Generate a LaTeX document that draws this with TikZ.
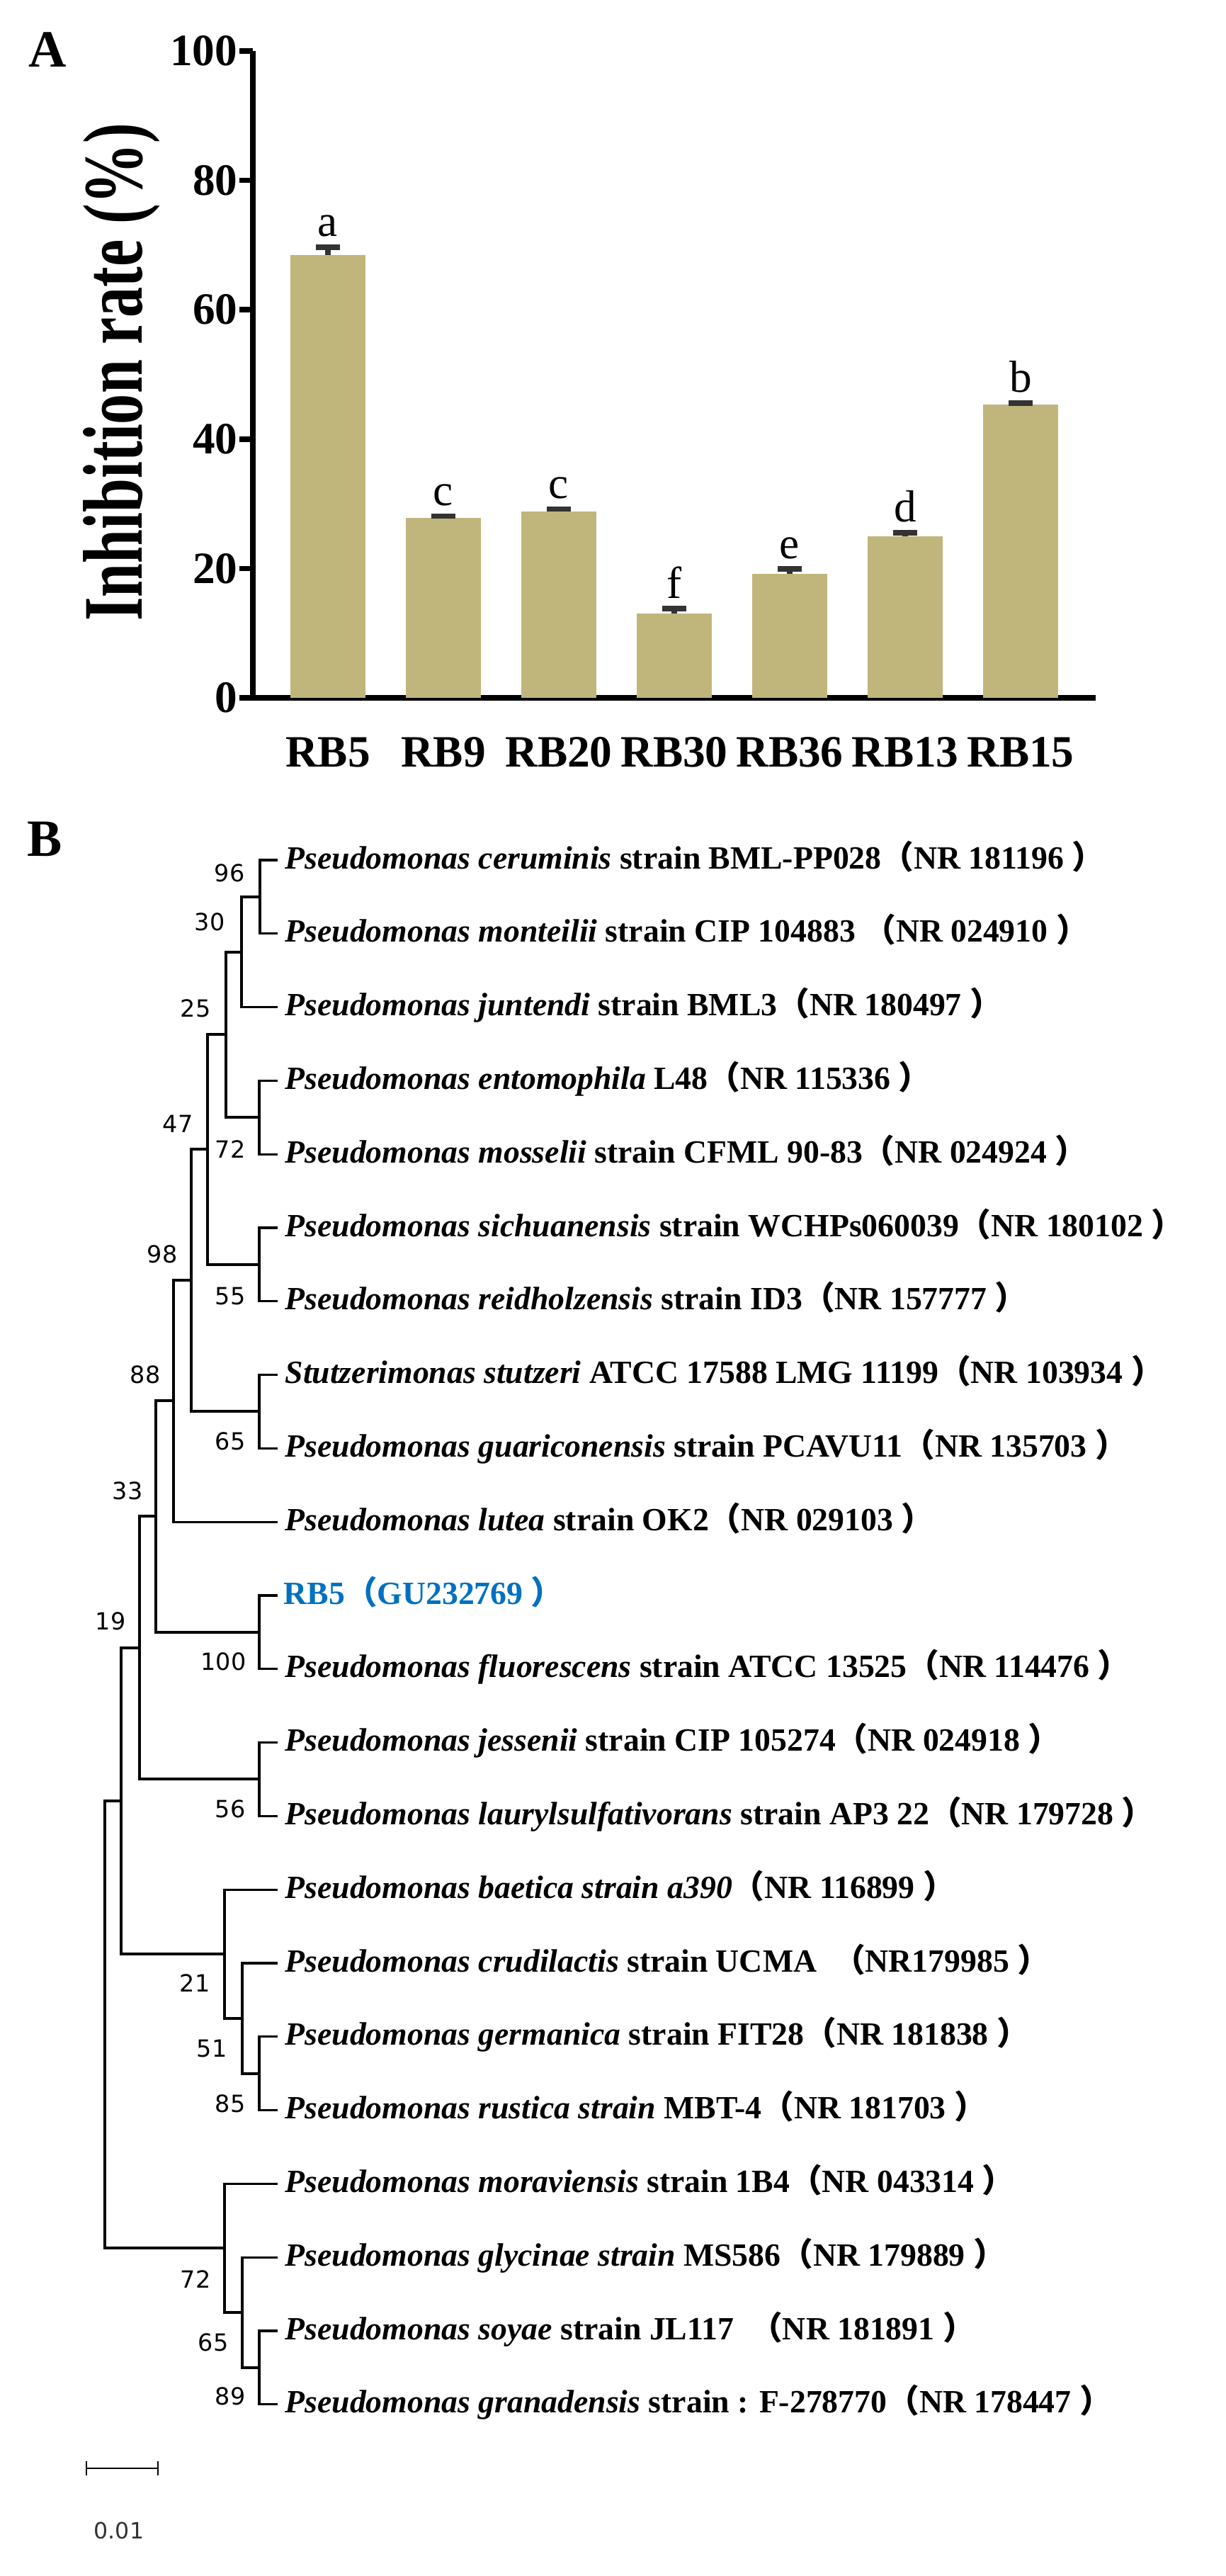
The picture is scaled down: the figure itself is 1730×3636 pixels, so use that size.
\documentclass[tikz,border=0pt]{standalone}
\usepackage{fontspec}
\setmainfont{Liberation Serif}
\newfontfamily\cjk{Noto Sans CJK SC}
\newfontfamily\bsfont{DejaVu Sans}
\definecolor{barcol}{RGB}{192,182,124}
\definecolor{rbblue}{RGB}{0,112,192}
\newcommand{\lp}{{\cjk （}}
\newcommand{\rp}{{\cjk ）}}
\begin{document}
\begin{tikzpicture}[x=0.01cm,y=-0.01cm,
  bar/.style={fill=barcol,draw=none},
  errb/.style={draw=black!80,line width=2.2pt},
  axis/.style={line width=2.2pt},
  tick/.style={font=\fontsize{18}{20}\selectfont\bfseries,anchor=east,inner sep=0},
  cat/.style={font=\fontsize{18}{20}\selectfont\bfseries,inner sep=0},
  sig/.style={font=\fontsize{18}{20}\selectfont,anchor=south,inner sep=0},
  branch/.style={line width=0.9pt},
  leaf/.style={font=\fontsize{13}{15}\selectfont\bfseries,anchor=base west,inner sep=0},
  boot/.style={font=\bsfont\fontsize{9.5}{11}\selectfont,anchor=base east,inner sep=0},
  panel/.style={font=\fontsize{21}{24}\selectfont\bfseries,inner sep=0}]
\useasboundingbox (0,0) rectangle (1730,3636);
% ---------- Panel A ----------
\node[panel] (A) at (67,70) {A};
\foreach \v [count=\i from 0] in {0,20,40,60,80,100}{
  \draw[axis] (338,985-9.13*\v) -- (357,985-9.13*\v);
  \node[tick] (t\i) at (336,985-9.13*\v) {\v};
}
\draw[axis] (357,72) -- (357,989);
\draw[axis] (353,985) -- (1547,985);
\node[font=\fontsize{34}{36}\selectfont\bfseries,rotate=90,xscale=0.72,inner sep=0] (ylab) at (172,525) {Inhibition rate (\%)};
\foreach \name/\val/\err/\sg [count=\i from 0] in {RB5/68.5/1.2/a,RB9/27.8/0.3/c,RB20/28.8/0.4/c,RB30/13.0/0.8/f,RB36/19.2/0.7/e,RB13/25.0/0.5/d,RB15/45.3/0.3/b}{
  \pgfmathsetmacro{\cx}{463+163*\i}
  \fill[barcol] (\cx-53,985) rectangle (\cx+53,985-9.13*\val);
  \draw[errb] (\cx,985-9.13*\val) -- (\cx,985-9.13*\val-9.13*\err);
  \draw[errb] (\cx-17,985-9.13*\val-9.13*\err) -- (\cx+17,985-9.13*\val-9.13*\err);
  \node[sig] (s\i) at (\cx,985-9.13*\val-9.13*\err-14) {\sg};
  \node[cat] (c\i) at (\cx,1062) {\name};
}
% ---------- Panel B ----------
\node[panel] (B) at (63,1184) {B};
\foreach \i in {0,...,21}{ \coordinate (l\i) at (392,1214+103.8*\i); }
\coordinate (n96) at (367,1266);
\coordinate (n30) at (341,1344);
\coordinate (n72) at (366,1577);
\coordinate (n25) at (319,1460);
\coordinate (n55) at (366,1785);
\coordinate (n47) at (293,1622);
\coordinate (n65) at (366,1992);
\coordinate (n98) at (270,1807);
\coordinate (n88) at (245,1977);
\coordinate (n100) at (366,2304);
\coordinate (n33) at (220,2140);
\coordinate (n56) at (366,2511);
\coordinate (n19) at (197,2326);
\coordinate (n85) at (366,2927);
\coordinate (n51) at (342,2849);
\coordinate (n21) at (317,2758);
\coordinate (nX) at (171,2542);
\coordinate (n89) at (366,3342);
\coordinate (n65b) at (342,3264);
\coordinate (n72b) at (317,3173);
\coordinate (root) at (148,2857);
\foreach \p/\a/\b in {n96/l0/l1,n30/n96/l2,n72/l3/l4,n25/n30/n72,n55/l5/l6,n47/n25/n55,n65/l7/l8,n98/n47/n65,n88/n98/l9,n100/l10/l11,n33/n88/n100,n56/l12/l13,n19/n33/n56,n85/l16/l17,n51/l15/n85,n21/l14/n51,nX/n19/n21,n89/l20/l21,n65b/l19/n89,n72b/l18/n65b,root/nX/n72b}{
  \draw[branch] (\a) -| (\p) |- (\b);
}
% leaf labels
\foreach \i/\t in {
0/{\textit{Pseudomonas ceruminis} strain BML-PP028\lp NR 181196 \rp},
1/{\textit{Pseudomonas monteilii} strain CIP 104883 \lp NR 024910 \rp},
2/{\textit{Pseudomonas juntendi} strain BML3\lp NR 180497 \rp},
3/{\textit{Pseudomonas entomophila} L48\lp NR 115336 \rp},
4/{\textit{Pseudomonas mosselii} strain CFML 90-83\lp NR 024924 \rp},
5/{\textit{Pseudomonas sichuanensis} strain WCHPs060039\lp NR 180102 \rp},
6/{\textit{Pseudomonas reidholzensis} strain ID3\lp NR 157777 \rp},
7/{\textit{Stutzerimonas stutzeri} ATCC 17588 LMG 11199\lp NR 103934 \rp},
8/{\textit{Pseudomonas guariconensis} strain PCAVU11\lp NR 135703 \rp},
9/{\textit{Pseudomonas lutea} strain OK2\lp NR 029103 \rp},
11/{\textit{Pseudomonas fluorescens} strain ATCC 13525\lp NR 114476 \rp},
12/{\textit{Pseudomonas jessenii} strain CIP 105274\lp NR 024918 \rp},
13/{\textit{Pseudomonas laurylsulfativorans} strain AP3 22\lp NR 179728 \rp},
14/{\textit{Pseudomonas baetica strain a390}\lp NR 116899 \rp},
15/{\textit{Pseudomonas crudilactis} strain UCMA \ \lp NR179985 \rp},
16/{\textit{Pseudomonas germanica} strain FIT28\lp NR 181838 \rp},
17/{\textit{Pseudomonas rustica strain} MBT-4\lp NR 181703 \rp},
18/{\textit{Pseudomonas moraviensis} strain 1B4\lp NR 043314 \rp},
19/{\textit{Pseudomonas glycinae strain} MS586\lp NR 179889 \rp},
20/{\textit{Pseudomonas soyae} strain JL117 \ \lp NR 181891 \rp},
21/{\textit{Pseudomonas granadensis} strain : F-278770\lp NR 178447 \rp}}{
  \node[leaf] (t\i) at (402,1214+103.8*\i+12) {\t};
}
\node[leaf,text=rbblue] (t10) at (400,1214+103.8*10+12) {RB5\lp GU232769 \rp};
% bootstrap values
\foreach \v/\x/\y [count=\k] in {96/346/1231,30/318/1300,25/298/1422,72/347/1621,47/273/1585,55/347/1828,98/251/1769,65/347/2033,88/227/1939,33/202/2103,100/348/2344,19/178/2287,56/347/2552,21/297/2798,51/321/2890,85/347/2968,72/298/3216,65/323/3305,89/347/3381}{
  \node[boot] (b\k) at (\x,\y+13) {\v};
}
% scale bar
\coordinate (sa) at (122,3484);
\coordinate (sb) at (223,3484);
\draw[line width=0.8pt] (sa) -- (sb);
\draw[line width=0.8pt] ([yshift=-0.1cm]sa) -- ([yshift=0.1cm]sa);
\draw[line width=0.8pt] ([yshift=-0.1cm]sb) -- ([yshift=0.1cm]sb);
\node[font=\bsfont\fontsize{9}{11}\selectfont,text=black!80,inner sep=0] (scl) at (168,3572) {0.01};
\end{tikzpicture}
\end{document}
